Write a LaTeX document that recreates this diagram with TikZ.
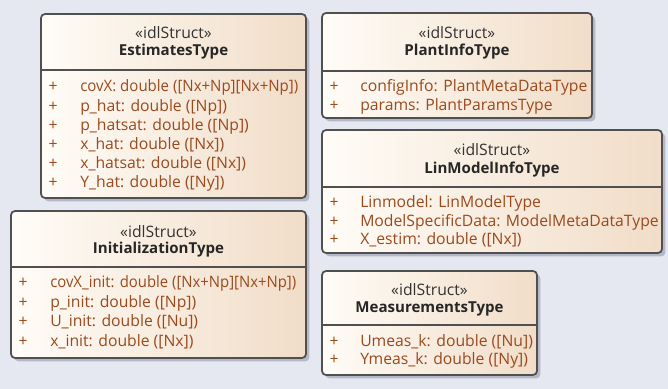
\documentclass[tikz,border=0pt]{standalone}
\usepackage{fontspec}
\setmainfont{Open Sans}
\usetikzlibrary{fit,shadows}
\definecolor{bgcol}{HTML}{E6E8F1}
\definecolor{framecol}{HTML}{505050}
\definecolor{lightfill}{HTML}{FFFCF7}
\definecolor{darkfill}{HTML}{F1DDC8}
\definecolor{attrcol}{HTML}{9A4A1E}
\definecolor{shadowcol}{HTML}{B4B8C8}
\tikzset{
  x=0.75pt, y=-0.75pt,
  classbox/.style={draw=framecol, line width=1.3pt, rounded corners=3pt,
    left color=lightfill, right color=darkfill, inner sep=0pt,
    drop shadow={shadow xshift=2.5pt, shadow yshift=-2.5pt, fill=shadowcol, opacity=1}},
  sepline/.style={draw=framecol, line width=1pt},
  stereo/.style={font=\fontsize{11.8}{14}\selectfont, text=black!80, inner sep=0pt},
  cname/.style={font=\fontsize{11.3}{14}\selectfont\bfseries, text=black!85, inner sep=0pt},
  plus/.style={font=\fontsize{11.8}{14}\selectfont, text=attrcol, inner sep=0pt},
  attr/.style={font=\fontsize{11.8}{14}\selectfont, text=attrcol, inner sep=0pt, anchor=west},
}
% set a long attribute line to a given width, keeping its height
\newcommand{\fitline}[2]{\resizebox{#1}{\height}{#2}}
\begin{document}
\begin{tikzpicture}
\fill[bgcol] (0,0) rectangle (668,389);
\useasboundingbox (0,0) rectangle (668,389);

% EstimatesType
\node[classbox, fit={(41,14) (306,198)}] (est) {};
\draw[sepline] (est.west |- 0,70) -- (est.east |- 0,70);
\node[stereo] (est-st) at (173.5,33) {«idlStruct»};
\node[cname] (est-nm) at (173.5,52) {EstimatesType};
\node[plus] (est-p1) at (53,87) {+};
\node[attr] (est-a1) at (80,87) {\fitline{163.5pt}{covX: double ([Nx+Np][Nx+Np])}};
\foreach \y/\t [count=\i from 2] in {107/{p\_hat: double ([Np])},126/{p\_hatsat: double ([Np])},145/{x\_hat: double ([Nx])},164/{x\_hatsat: double ([Nx])},183/{Y\_hat: double ([Ny])}}{
  \node[plus] (est-p\i) at (53,\y) {+};
  \node[attr] (est-a\i) at (80,\y) {\t};
}

% InitializationType
\node[classbox, fit={(11,211) (306,358)}] (ini) {};
\draw[sepline] (ini.west |- 0,267) -- (ini.east |- 0,267);
\node[stereo] (ini-st) at (158.5,232) {«idlStruct»};
\node[cname] (ini-nm) at (158.5,250) {InitializationType};
\node[plus] (ini-p1) at (23,283) {+};
\node[attr] (ini-a1) at (50,283) {\fitline{184.5pt}{covX\_init: double ([Nx+Np][Nx+Np])}};
\foreach \y/\t [count=\i from 2] in {303/{p\_init: double ([Np])},322/{U\_init: double ([Nu])},342/{x\_init: double ([Nx])}}{
  \node[plus] (ini-p\i) at (23,\y) {+};
  \node[attr] (ini-a\i) at (50,\y) {\t};
}

% PlantInfoType
\node[classbox, fit={(322,13) (592,118)}] (pla) {};
\draw[sepline] (pla.west |- 0,71) -- (pla.east |- 0,71);
\node[stereo] (pla-st) at (457,33) {«idlStruct»};
\node[cname] (pla-nm) at (457,52) {PlantInfoType};
\foreach \y/\t [count=\i] in {87/{configInfo: PlantMetaDataType},106/{params: PlantParamsType}}{
  \node[plus] (pla-p\i) at (334,\y) {+};
  \node[attr] (pla-a\i) at (360,\y) {\t};
}

% LinModelInfoType
\node[classbox, fit={(322,130) (662,253)}] (lin) {};
\draw[sepline] (lin.west |- 0,187) -- (lin.east |- 0,187);
\node[stereo] (lin-st) at (492,150) {«idlStruct»};
\node[cname] (lin-nm) at (492,170) {LinModelInfoType};
\foreach \y/\t [count=\i] in {203/{Linmodel: LinModelType},222/{ModelSpecificData: ModelMetaDataType},240/{X\_estim: double ([Nx])}}{
  \node[plus] (lin-p\i) at (334,\y) {+};
  \node[attr] (lin-a\i) at (360,\y) {\t};
}

% MeasurementsType
\node[classbox, fit={(322,271) (537,375)}] (mea) {};
\draw[sepline] (mea.west |- 0,325) -- (mea.east |- 0,325);
\node[stereo] (mea-st) at (429.5,290) {«idlStruct»};
\node[cname] (mea-nm) at (429.5,309) {MeasurementsType};
\foreach \y/\t [count=\i] in {342/{Umeas\_k: double ([Nu])},360/{Ymeas\_k: double ([Ny])}}{
  \node[plus] (mea-p\i) at (334,\y) {+};
  \node[attr] (mea-a\i) at (360,\y) {\t};
}
\end{tikzpicture}
\end{document}
